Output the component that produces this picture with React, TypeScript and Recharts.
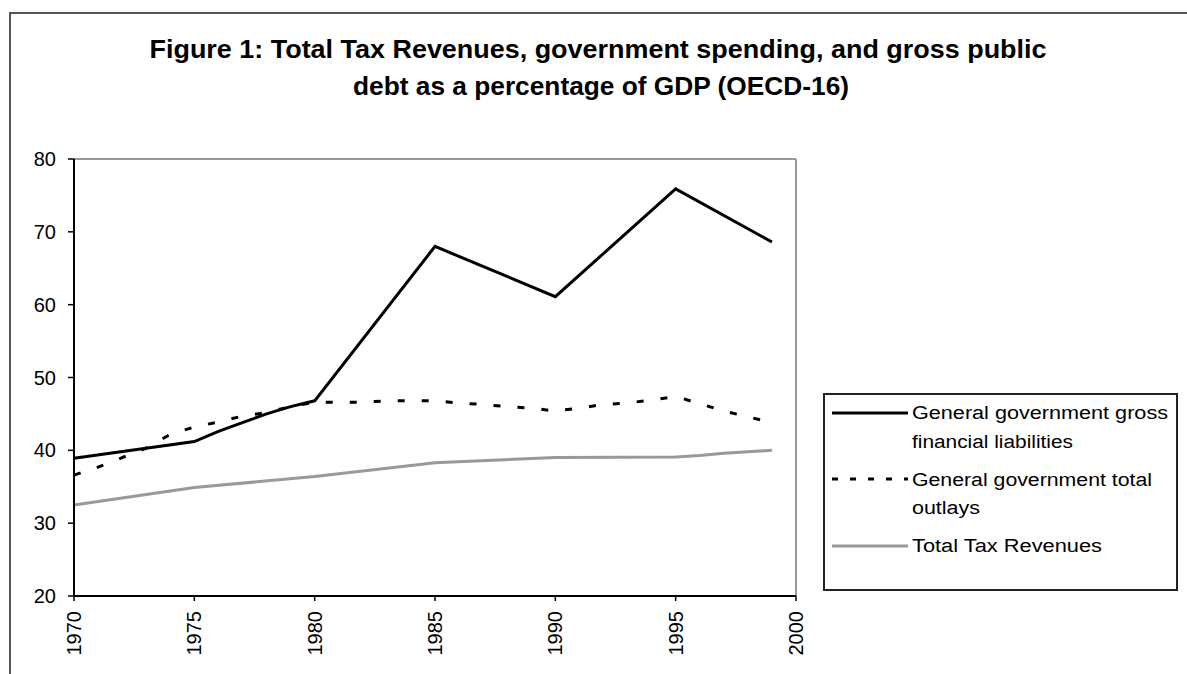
import React from 'react';
import { LineChart, Line, XAxis, YAxis, ReferenceLine, Legend } from 'recharts';

// values
const debtYears = [1970, 1975, 1976, 1977, 1978, 1979, 1980, 1985, 1990, 1995, 1999];
const debtValues = [38.9, 41.2, 42.6, 43.8, 45.0, 46.0, 46.8, 68.0, 61.1, 75.9, 68.6];

const outlayYears = [
  1970, 1971, 1972, 1973, 1974, 1975, 1976, 1977, 1978, 1979, 1980, 1981, 1982, 1983, 1984,
  1985, 1986, 1987, 1988, 1989, 1990, 1991, 1992, 1993, 1994, 1995, 1996, 1997, 1998, 1999,
];
const outlayValues = [
  36.6, 37.7, 39.0, 40.3, 42.2, 43.2, 43.9, 44.7, 45.2, 46.0, 46.6, 46.6, 46.6, 46.8, 46.8,
  46.8, 46.5, 46.3, 46.0, 45.8, 45.4, 45.8, 46.3, 46.5, 46.9, 47.4, 46.4, 45.4, 44.6, 43.8,
];

const taxYears = [1970, 1975, 1980, 1985, 1990, 1995, 1996, 1997, 1998, 1999];
const taxValues = [32.5, 34.9, 36.4, 38.3, 39.0, 39.1, 39.3, 39.6, 39.8, 40.0];

const xTicks = [1970, 1975, 1980, 1985, 1990, 1995, 2000];
const yTicks = [20, 30, 40, 50, 60, 70, 80];

const titleLines = [
  'Figure 1: Total Tax Revenues, government spending, and gross public',
  'debt as a percentage of GDP (OECD-16)',
];

const debtData = debtYears.map((year, i) => ({ year, value: debtValues[i] }));
const outlayData = outlayYears.map((year, i) => ({ year, value: outlayValues[i] }));
const taxData = taxYears.map((year, i) => ({ year, value: taxValues[i] }));

const FONT = '"Liberation Sans", Arial, sans-serif';

function YearTick({ x, y, payload }: any) {
  return (
    <text
      x={x}
      y={y}
      transform={`rotate(-90 ${x} ${y})`}
      textAnchor="end"
      dominantBaseline="central"
      fontSize={20}
      fontFamily={FONT}
      fill="#000"
    >
      {payload.value}
    </text>
  );
}

// legend drawn as a boxed list, like the spreadsheet original
function LegendBox() {
  const rows = [
    { y: 18, stroke: '#000', dash: undefined, lines: [['General government gross', 256, 24], ['financial liabilities', 161, 53]] },
    { y: 84, stroke: '#000', dash: '6 12', lines: [['General government total', 240, 91], ['outlays', 68, 119]] },
    { y: 151, stroke: '#999', dash: undefined, lines: [['Total Tax Revenues', 190, 157]] },
  ];
  return (
    <div style={{ width: 355, height: 198, border: '2px solid #222', boxSizing: 'border-box', background: '#fff' }}>
      <svg width={351} height={194}>
        {rows.map((r, i) => (
          <g key={i}>
            <line x1={7} x2={83} y1={r.y} y2={r.y} stroke={r.stroke} strokeWidth={3} strokeDasharray={r.dash} />
            {r.lines.map(([t, w, by]: any, j) => (
              <text key={j} x={87} y={by} fontSize={18} fontFamily={FONT} fill="#000" textLength={w} lengthAdjust="spacingAndGlyphs">
                {t}
              </text>
            ))}
          </g>
        ))}
      </svg>
    </div>
  );
}

export default function App() {
  return (
    <div style={{ position: 'absolute', left: 0, top: 0, width: 1187, height: 674, background: '#fff', overflow: 'hidden' }}>
      <div style={{ position: 'absolute', left: 9, top: 12, width: 1200, height: 700, borderTop: '2px solid #555', borderLeft: '2px solid #555' }} />
      <svg style={{ position: 'absolute', left: 0, top: 0 }} width={1187} height={130}>
        <text x={598} y={58} textAnchor="middle" fontSize={25} fontWeight="bold" fontFamily={FONT} textLength={897} lengthAdjust="spacingAndGlyphs">
          {titleLines[0]}
        </text>
        <text x={601} y={95} textAnchor="middle" fontSize={25} fontWeight="bold" fontFamily={FONT} textLength={496} lengthAdjust="spacingAndGlyphs">
          {titleLines[1]}
        </text>
      </svg>
      <div style={{ position: 'absolute', left: 0, top: 0 }}>
        <LineChart width={1187} height={674} margin={{ top: 159, right: 391, bottom: 8, left: 14 }}>
          <XAxis
            dataKey="year"
            type="number"
            domain={[1970, 2000]}
            ticks={xTicks}
            interval={0}
            height={70}
            tickSize={5}
            tickMargin={10}
            tick={<YearTick />}
            axisLine={{ stroke: '#000', strokeWidth: 2 }}
            tickLine={{ stroke: '#000', strokeWidth: 1.5 }}
            allowDuplicatedCategory={false}
          />
          <YAxis
            type="number"
            domain={[20, 80]}
            ticks={yTicks}
            interval={0}
            width={60}
            tickSize={6}
            tickMargin={12}
            tick={{ fontSize: 20, fill: '#000', fontFamily: FONT }}
            axisLine={{ stroke: '#000', strokeWidth: 2 }}
            tickLine={{ stroke: '#000', strokeWidth: 1.5 }}
          />
          <ReferenceLine y={80} stroke="#999" strokeWidth={2} />
          <ReferenceLine x={2000} stroke="#999" strokeWidth={2} />
          <Legend
            layout="vertical"
            align="center"
            verticalAlign="middle"
            content={<LegendBox />}
            wrapperStyle={{ left: 823, top: 393, width: 355, height: 198 }}
          />
          <Line
            data={taxData}
            dataKey="value"
            name="Total Tax Revenues"
            type="linear"
            stroke="#999"
            strokeWidth={3}
            dot={false}
            isAnimationActive={false}
          />
          <Line
            data={outlayData}
            dataKey="value"
            name="General government total outlays"
            type="linear"
            stroke="#000"
            strokeWidth={3}
            strokeDasharray="7 17"
            dot={false}
            isAnimationActive={false}
          />
          <Line
            data={debtData}
            dataKey="value"
            name="General government gross financial liabilities"
            type="linear"
            stroke="#000"
            strokeWidth={3}
            dot={false}
            isAnimationActive={false}
          />
        </LineChart>
      </div>
    </div>
  );
}
